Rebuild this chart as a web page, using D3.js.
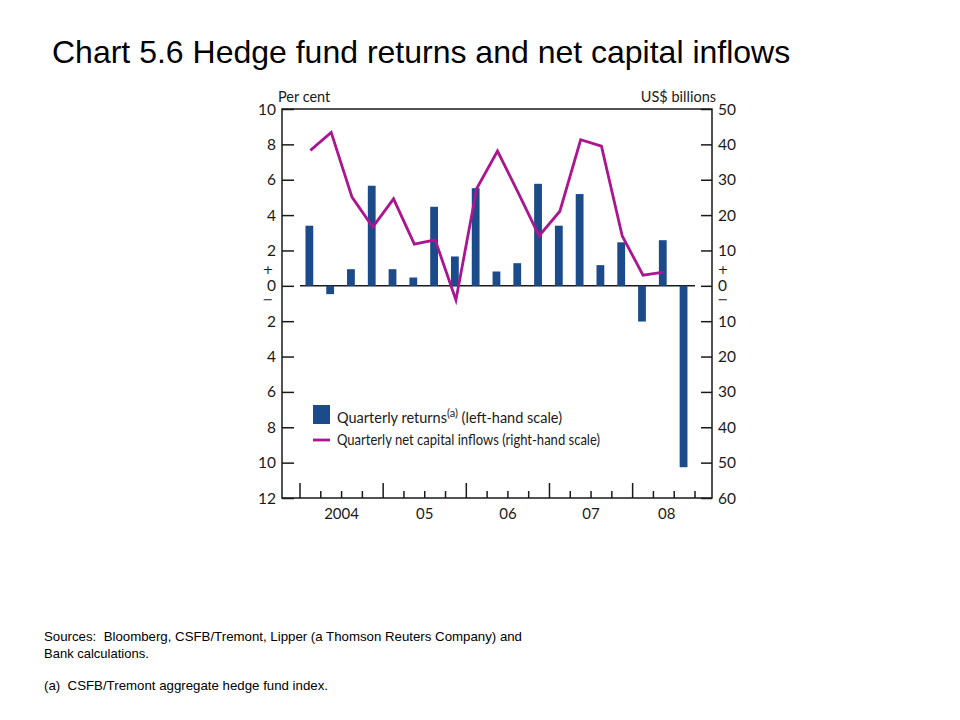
<!DOCTYPE html>
<html><head><meta charset="utf-8">
<script src="https://cdn.jsdelivr.net/npm/d3@7"></script>
<style>body{margin:0;background:#fff;} svg{display:block;} text{white-space:pre;}</style>
</head><body>
<svg id="c" width="960" height="720"></svg>
<script>
const quarters = ["2004Q1","2004Q2","2004Q3","2004Q4","2005Q1","2005Q2","2005Q3","2005Q4","2006Q1","2006Q2","2006Q3","2006Q4","2007Q1","2007Q2","2007Q3","2007Q4","2008Q1","2008Q2","2008Q3"];
const returns = [3.4,-0.47,0.94,5.66,0.94,0.47,4.47,1.66,5.52,0.81,1.28,5.77,3.4,5.19,1.17,2.46,-2.02,2.58,-10.26];
const inflows = [38.3,43.4,25.1,16.6,24.6,11.8,13.0,-4.0,27.5,38.1,26.3,14.1,21.1,41.3,39.5,14.1,3.0,3.9];
const years = ["2004","05","06","07","08"];
const leftTicks = [10,8,6,4,2,0,-2,-4,-6,-8,-10,-12];
const rightTicks = [50,40,30,20,10,0,-10,-20,-30,-40,-50,-60];

const svg = d3.select("#c");
const X0 = 282, X1 = 712, Y0 = 109, Y1 = 498;
const x = d3.scaleLinear().domain([0, quarters.length]).range([300, 695]);
const yL = d3.scaleLinear().domain([-12, 10]).range([Y1, Y0]);
const yR = d3.scaleLinear().domain([-60, 50]).range([Y1, Y0]);
const FONT = "Lato, 'Open Sans', sans-serif";
const INK = "#1a1a1a";
const barColor = "#1b4b8a", lineColor = "#ac1490";

// Title
svg.append("text").attr("x", 52).attr("y", 63).attr("font-family", "'Liberation Sans', Arial, sans-serif")
  .attr("font-size", 32).attr("fill", "#000")
  .text("Chart 5.6 Hedge fund returns and net capital inflows");

// Frame
const g = svg.append("g");
g.append("path").attr("d", `M${X0},${Y0}H${X1}V${Y1}H${X0}Z`).attr("fill", "none").attr("stroke", INK).attr("stroke-width", 1.5);

// Left axis (ticks inward)
const axL = d3.axisRight(yL).tickValues(leftTicks).tickSize(12).tickFormat("");
g.append("g").attr("transform", `translate(${X0},0)`).call(axL).call(s => { s.select(".domain").remove(); s.selectAll("line").attr("stroke", INK).attr("stroke-width", 1.5); });
g.selectAll(".ltl").data(leftTicks).join("text").attr("x", 276).attr("y", d => yL(d) + 5.5)
  .attr("text-anchor", "end").attr("font-family", FONT).attr("font-size", 15.5).attr("fill", INK).text(d => Math.abs(d));

// Right axis (ticks inward)
const axR = d3.axisLeft(yR).tickValues(rightTicks).tickSize(11).tickFormat("");
g.append("g").attr("transform", `translate(${X1},0)`).call(axR).call(s => { s.select(".domain").remove(); s.selectAll("line").attr("stroke", INK).attr("stroke-width", 1.5); });
g.selectAll(".rtl").data(rightTicks).join("text").attr("x", 718).attr("y", d => yR(d) + 5.5)
  .attr("text-anchor", "start").attr("font-family", FONT).attr("font-size", 15.5).attr("fill", INK).text(d => Math.abs(d));

// +/- signs
[268, 723].forEach(px => {
  g.append("text").attr("x", px).attr("y", yL(0) - 11.5).attr("text-anchor", "middle").attr("font-family", "'DejaVu Sans', sans-serif").attr("font-size", 13).attr("fill", INK).text("+");
  g.append("text").attr("x", px).attr("y", yL(0) + 18.5).attr("text-anchor", "middle").attr("font-family", "'DejaVu Sans', sans-serif").attr("font-size", 13).attr("fill", INK).text("\u2212");
});

// Axis titles
g.append("text").attr("x", 278).attr("y", 102).attr("font-family", FONT).attr("font-size", 14.5).attr("fill", INK).text("Per cent");
g.append("text").attr("x", 716).attr("y", 102).attr("text-anchor", "end").attr("font-family", FONT).attr("font-size", 14.5).attr("fill", INK).text("US$ billions");

// Zero line
g.append("line").attr("x1", x(0)).attr("x2", x(quarters.length)).attr("y1", yL(0)).attr("y2", yL(0)).attr("stroke", INK).attr("stroke-width", 1.5);

// Bottom quarter ticks
d3.range(quarters.length + 1).forEach(i => {
  const major = i % 4 === 0;
  g.append("line").attr("x1", x(i)).attr("x2", x(i)).attr("y1", Y1).attr("y2", major ? Y1 - 15 : Y1 - 7).attr("stroke", INK).attr("stroke-width", 1.5);
});
years.forEach((yr, k) => {
  const a = x(k * 4), b = x(Math.min(k * 4 + 4, quarters.length));
  g.append("text").attr("x", (a + b) / 2 + (k === 4 ? 3 : 0)).attr("y", 519).attr("text-anchor", "middle").attr("font-family", FONT).attr("font-size", 15).attr("fill", INK).text(yr);
});

// Bars
const bw = 7.8;
g.selectAll(".bar").data(returns).join("rect")
  .attr("x", (d, i) => x(i + 0.45) - bw / 2).attr("width", bw)
  .attr("y", d => yL(Math.max(0, d))).attr("height", d => Math.abs(yL(d) - yL(0)))
  .attr("fill", barColor);

// Line
const line = d3.line().x((d, i) => x(i + 0.5)).y(d => yR(d));
g.append("path").datum(inflows).attr("d", line).attr("fill", "none").attr("stroke", lineColor).attr("stroke-width", 2.8).attr("stroke-linejoin", "miter");

// Legend
g.append("rect").attr("x", 313).attr("y", 405).attr("width", 17).attr("height", 19).attr("fill", barColor);
g.append("line").attr("x1", 313).attr("x2", 330).attr("y1", 440).attr("y2", 440).attr("stroke", lineColor).attr("stroke-width", 2.8);
const l1 = g.append("text").attr("x", 337).attr("y", 423).attr("font-family", FONT).attr("font-size", 14.5).attr("fill", INK);
l1.append("tspan").text("Quarterly returns");
l1.append("tspan").attr("font-size", 11).attr("dy", -6).text("(a)");
l1.append("tspan").attr("dy", 6).text(" (left-hand scale)");
g.append("text").attr("x", 337).attr("y", 445).attr("font-family", FONT).attr("font-size", 15).attr("fill", INK)
  .attr("textLength", 263).attr("lengthAdjust", "spacingAndGlyphs").text("Quarterly net capital inflows (right-hand scale)");

// Footnotes
const FN = "'Liberation Sans', Arial, sans-serif";
svg.append("text").attr("x", 44).attr("y", 641).attr("font-family", FN).attr("font-size", 13).attr("fill", "#000")
  .attr("textLength", 478).attr("lengthAdjust", "spacingAndGlyphs").text("Sources:  Bloomberg, CSFB/Tremont, Lipper (a Thomson Reuters Company) and");
svg.append("text").attr("x", 44).attr("y", 658).attr("font-family", FN).attr("font-size", 13).attr("fill", "#000").text("Bank calculations.");
svg.append("text").attr("x", 44).attr("y", 690).attr("font-family", FN).attr("font-size", 13).attr("fill", "#000")
  .attr("textLength", 284).attr("lengthAdjust", "spacingAndGlyphs").text("(a)  CSFB/Tremont aggregate hedge fund index.");
</script>
</body></html>
